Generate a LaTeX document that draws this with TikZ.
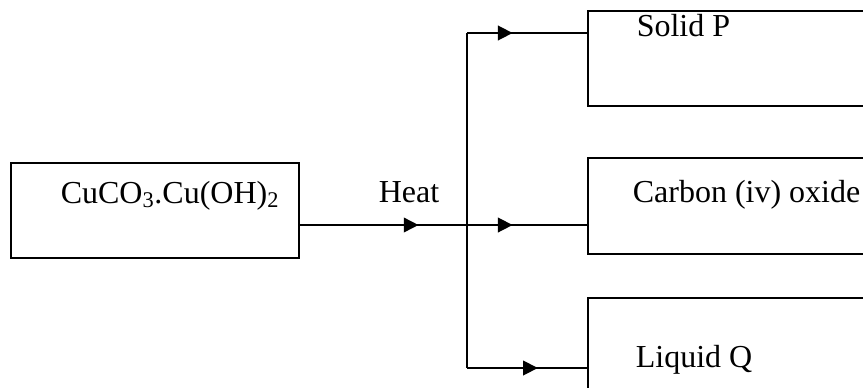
\documentclass[tikz,border=0pt]{standalone}
\usepackage{fontspec}
\setmainfont{Liberation Serif}
\usetikzlibrary{arrows.meta,positioning,decorations.markings}
\tikzset{
  px/.style={x=0.75pt, y=-0.75pt, line width=1.2pt, font=\fontsize{24}{28}\selectfont},
  box/.style={draw, rectangle, inner sep=0pt, anchor=north west, line width=1.2pt},
  txt/.style={anchor=base west, inner sep=0pt},
  link/.style={draw, line width=1.2pt},
  mid/.style={postaction={decorate}, decoration={markings, mark=at position #1 with {\arrow{Triangle[length=11pt, width=11pt]}}}},
}
\begin{document}
\begin{tikzpicture}[px]
\useasboundingbox (0,0) rectangle (863,387);
\clip (0,0) rectangle (863,387);

\node[box, minimum width=216pt, minimum height=71.25pt] (ore) at (10,162) {};
\node[box, minimum width=225pt, minimum height=71.25pt] (boxP) at (587,10) {};
\node[box, minimum width=225pt, minimum height=72pt] (boxC) at (587,157) {};
\node[box, minimum width=225pt, minimum height=90pt] (boxQ) at (587,297) {};

\node[txt] (oreTxt) at (60,203) {CuCO\textsubscript{3}.Cu(OH)\textsubscript{2}};
\node[txt] (heat) at (378,202) {Heat};
\node[txt] (txtP) at (636,36) {Solid P};
\node[txt] (txtC) at (632,202) {Carbon (iv) oxide};
\node[txt] (txtQ) at (635,367) {Liquid Q};

\coordinate (jT) at (467,33);
\coordinate (jM) at (467,225);
\coordinate (jB) at (467,368);

\draw[link, mid=0.71] (ore.east |- jM) -- (jM);
\draw[link] (jT) -- (jB);
\foreach \j/\b/\p in {jT/boxP/0.38, jM/boxC/0.38, jB/boxQ/0.59}
  \draw[link, mid=\p] (\j) -- (\j -| \b.west);
\end{tikzpicture}
\end{document}
